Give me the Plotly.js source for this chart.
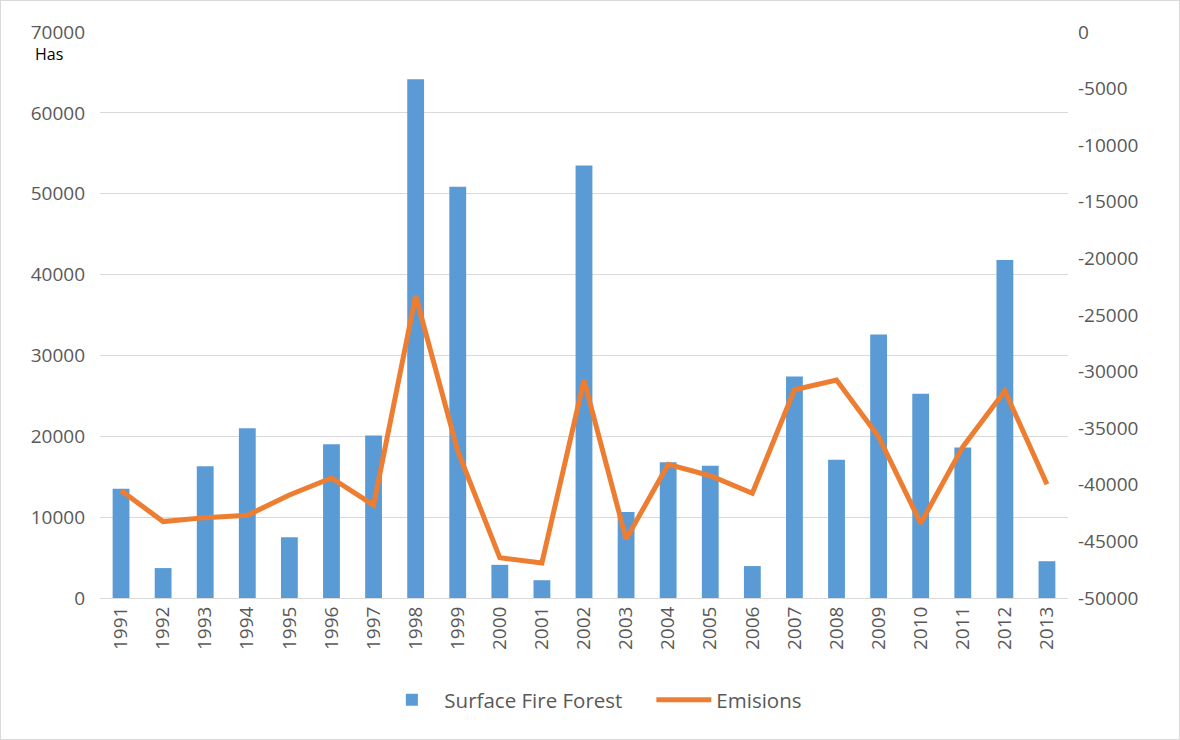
<!DOCTYPE html>
<html>
<head>
<meta charset="utf-8">
<script src="https://cdn.plot.ly/plotly-3.0.1.min.js"></script>
<style>
  html, body { margin: 0; padding: 0; background: #ffffff; }
  #chart { width: 1180px; height: 740px; box-sizing: border-box; border: 1px solid #d9d9d9; }
</style>
</head>
<body>
<div id="chart"></div>
<script>
const years = ["1991","1992","1993","1994","1995","1996","1997","1998","1999","2000","2001","2002","2003","2004","2005","2006","2007","2008","2009","2010","2011","2012","2013"];
const surfaceFireForest = [13500, 3700, 16300, 21000, 7500, 19000, 20100, 64150, 50850, 4100, 2200, 53500, 10650, 16800, 16350, 3950, 27400, 17100, 32600, 25250, 18600, 41800, 4550];
const emisions = [-40500, -43250, -42900, -42700, -40900, -39400, -41800, -23300, -37000, -46450, -46900, -30750, -44800, -38200, -39200, -40750, -31600, -30750, -35750, -43400, -36650, -31700, -39950];
const leftTicks = [0, 10000, 20000, 30000, 40000, 50000, 60000, 70000];
const rightTicks = [-50000, -45000, -40000, -35000, -30000, -25000, -20000, -15000, -10000, -5000, 0];

const fontFam = "Open Sans, Noto Sans, sans-serif";
const tickFont = {family: fontFam, size: 19, color: "#595959"};

const traces = [
  {
    type: "bar", name: "Surface Fire Forest", x: years, y: surfaceFireForest,
    marker: {color: "#5B9BD5"}, hoverinfo: "skip"
  },
  {
    type: "scatter", mode: "lines", name: "Emisions", x: years, y: emisions, yaxis: "y2",
    line: {color: "#ED7D31", width: 5}, hoverinfo: "skip"
  }
];

const layout = {
  width: 1178, height: 738,
  margin: {l: 99, r: 111, t: 31, b: 141},
  paper_bgcolor: "#ffffff", plot_bgcolor: "#ffffff",
  font: {family: fontFam, color: "#595959"},
  bargap: 0.6,
  showlegend: true,
  legend: {
    orientation: "h", x: 0.2886, xanchor: "left", y: -0.18, yanchor: "middle",
    font: {family: fontFam, size: 20.5, color: "#595959"}, itemwidth: 55,
    entrywidth: 202, entrywidthmode: "pixels",
    traceorder: "normal"
  },
  xaxis: {
    type: "category", tickangle: -90, tickfont: tickFont,
    showgrid: false, showline: true, linecolor: "#d9d9d9", linewidth: 1,
    ticks: "", fixedrange: true
  },
  yaxis: {
    range: [0, 70000], tickvals: leftTicks, ticktext: leftTicks.map(String),
    tickfont: tickFont, showgrid: true, gridcolor: "#d9d9d9", gridwidth: 1,
    zeroline: false, showline: false, ticks: "", ticklabelstandoff: 14, fixedrange: true
  },
  yaxis2: {
    overlaying: "y", side: "right",
    range: [-50000, 0], tickvals: rightTicks, ticktext: rightTicks.map(String),
    tickfont: tickFont, showgrid: false, zeroline: false, showline: false,
    ticks: "", ticklabelstandoff: 9, fixedrange: true
  },
  annotations: [
    {text: "Has", xref: "paper", yref: "paper", x: -0.053, y: 0.961,
     xanchor: "center", yanchor: "middle", showarrow: false,
     font: {family: fontFam, size: 16, color: "#000000"}}
  ]
};

Plotly.newPlot("chart", traces, layout, {displayModeBar: false, staticPlot: true});
</script>
</body>
</html>
